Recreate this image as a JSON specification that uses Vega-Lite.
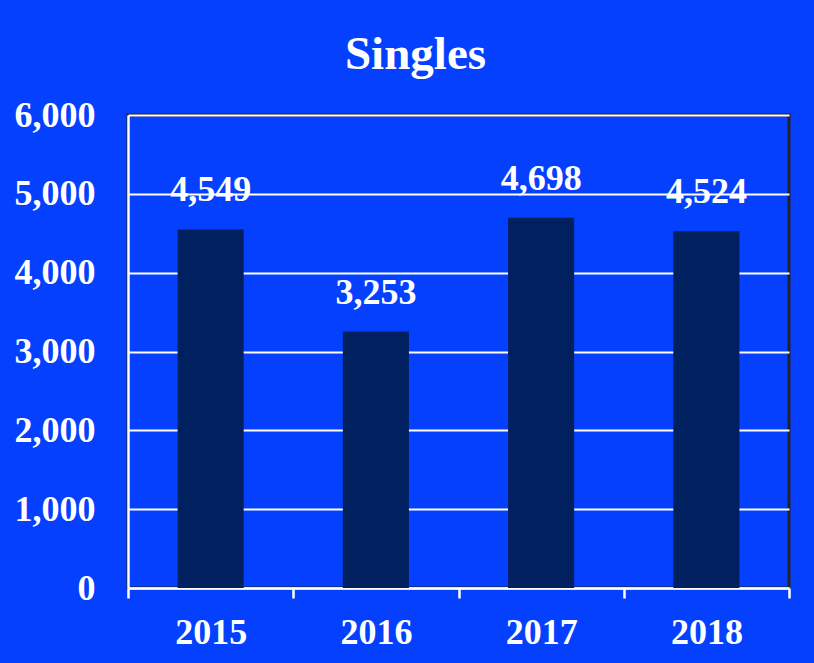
{
  "$schema": "https://vega.github.io/schema/vega-lite/v6.json",
  "width": 661,
  "height": 473,
  "padding": {"left": 14, "top": 31, "right": 23, "bottom": 20},
  "background": "#0540FF",
  "title": {
    "text": "Singles",
    "font": "Liberation Serif",
    "fontSize": 47,
    "fontWeight": "bold",
    "color": "white",
    "anchor": "middle",
    "dx": -43,
    "offset": 18
  },
  "data": {
    "values": [
      {"year": "2015", "value": 4549},
      {"year": "2016", "value": 3253},
      {"year": "2017", "value": 4698},
      {"year": "2018", "value": 4524}
    ]
  },
  "config": {
    "view": {"stroke": "#222222", "strokeWidth": 3},
    "axis": {
      "labelFont": "Liberation Serif",
      "labelFontSize": 36,
      "labelFontWeight": "bold",
      "labelColor": "white",
      "domainColor": "white",
      "domainWidth": 2.5,
      "tickColor": "white",
      "tickWidth": 2.5,
      "gridColor": "white",
      "gridWidth": 2,
      "gridOpacity": 1,
      "title": null
    }
  },
  "encoding": {
    "x": {
      "field": "year",
      "type": "nominal",
      "scale": {"paddingInner": 0, "paddingOuter": 0},
      "axis": {"labelAngle": 0, "tickBand": "extent", "tickSize": 10, "labelPadding": 17, "grid": false}
    },
    "y": {
      "field": "value",
      "type": "quantitative",
      "scale": {"domain": [0, 6000]},
      "axis": {"values": [0, 1000, 2000, 3000, 4000, 5000, 6000], "format": ",d", "ticks": false, "labelPadding": 33}
    }
  },
  "layer": [
    {"mark": {"type": "bar", "color": "#002060", "width": {"band": 0.4}}},
    {
      "mark": {
        "type": "text",
        "font": "Liberation Serif",
        "fontSize": 36,
        "fontWeight": "bold",
        "color": "white",
        "baseline": "bottom",
        "dy": -20
      },
      "encoding": {"text": {"field": "value", "type": "quantitative", "format": ",d"}}
    }
  ]
}
